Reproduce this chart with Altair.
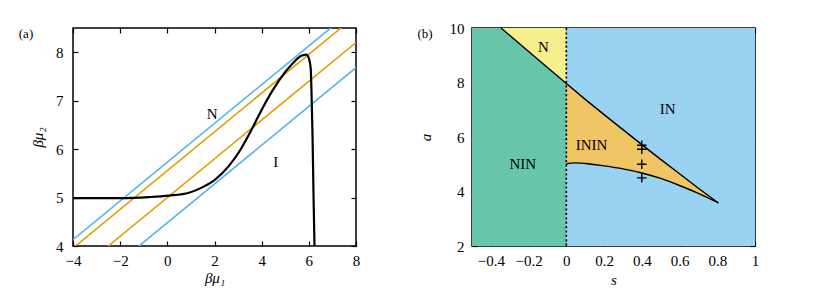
import altair as alt
import pandas as pd

FONT = "Liberation Serif"

# ---------------- panel (a) data ----------------
line_names = ["blue_hi", "orange_hi", "orange_lo", "blue_lo"]
line_x0 = [-4, -4, -4, -4]
line_x1 = [8, 8, 8, 8]
line_y0 = [4.13, 3.956, 3.40, 2.88]
line_y1 = [8.93, 8.756, 8.20, 7.68]
line_colors = ["#56b4e9", "#e69f00", "#e69f00", "#56b4e9"]

curve_x = [-4, -2, -0.78, 0.07, 0.92, 1.48, 2.05, 2.62, 3.04, 3.46, 3.82, 4.03, 4.4,
           4.74, 5.3, 5.66, 5.9, 6.01, 6.08, 6.12, 6.16, 6.2, 6.24]
curve_y = [4.99, 4.99, 5.01, 5.04, 5.10, 5.21, 5.38, 5.66, 5.94, 6.30, 6.64, 6.84, 7.16,
           7.42, 7.76, 7.92, 7.95, 7.86, 7.66, 7.04, 6.2, 5.0, 4.0]

a_label_text = ["N", "I"]
a_label_x = [1.9, 4.6]
a_label_y = [6.73, 5.73]

a_xticks = [-4, -2, 0, 2, 4, 6, 8]
a_yticks = [4, 5, 6, 7, 8]

# ---------------- panel (b) data ----------------
rect_names = ["NIN", "IN"]
rect_s0 = [-0.5, 0.0]
rect_s1 = [0.0, 1.0]
rect_a0 = [2, 2]
rect_a1 = [10, 10]
rect_colors = ["#66c5ab", "#9ad2f2"]

yellow_s = [-0.346, 0.0]
yellow_a = [10.0, 7.96]

bound_s = [-0.346, -0.2, 0.0, 0.1, 0.2, 0.3, 0.4, 0.5, 0.6, 0.7, 0.806]
bound_a = [10.0, 9.14, 7.96, 7.38, 6.82, 6.27, 5.72, 5.18, 4.65, 4.12, 3.58]

lower_s = [0.0, 0.02, 0.05, 0.1, 0.2, 0.3, 0.4, 0.5, 0.6, 0.7, 0.806]
lower_a = [5.0, 5.04, 5.05, 5.03, 4.94, 4.83, 4.68, 4.48, 4.22, 3.93, 3.58]
upper_a = [7.96, 7.84, 7.67, 7.38, 6.82, 6.27, 5.72, 5.18, 4.65, 4.12, 3.58]

plus_s = [0.4, 0.4, 0.4, 0.4]
plus_a = [4.5, 5.0, 5.55, 5.7]

b_label_text = ["N", "IN", "ININ", "NIN"]
b_label_s = [-0.122, 0.537, 0.134, -0.231]
b_label_a = [9.3, 7.04, 5.72, 5.02]

b_xticks = [-0.4, -0.2, 0, 0.2, 0.4, 0.6, 0.8, 1]
b_yticks = [2, 4, 6, 8, 10]

W, H = 283, 218
TICK = 5


def main_axis(values, title, fmt=None, lab_pad=8, title_pad=6):
    kw = dict(values=values, grid=False, domain=False, tickSize=TICK, offset=-TICK,
              tickColor="black", tickWidth=1.2, labelFont=FONT, labelFontSize=15,
              labelColor="black", labelPadding=lab_pad, labelFlush=False, labelOverlap=False,
              titleFont=FONT, titleFontSize=15, titleFontWeight="normal",
              titleFontStyle="italic", titleColor="black", titlePadding=title_pad, title=title)
    if fmt:
        kw["format"] = fmt
    return alt.Axis(**kw)


def mirror_axis(values, orient):
    return alt.Axis(values=values, grid=False, domain=False, tickSize=TICK, offset=-TICK,
                    tickColor="black", tickWidth=1.2, labels=False, title=None, orient=orient)


# ---------------- panel (a) ----------------
xs_a = alt.Scale(domain=[-4, 8], nice=False, zero=False)
ys_a = alt.Scale(domain=[4, 8.5], nice=False, zero=False)

rows = []
for n, x0, x1, y0, y1 in zip(line_names, line_x0, line_x1, line_y0, line_y1):
    rows.append({"name": n, "x": x0, "y": y0})
    rows.append({"name": n, "x": x1, "y": y1})
lines_df = pd.DataFrame(rows)
curve_df = pd.DataFrame({"x": curve_x, "y": curve_y})
alab_df = pd.DataFrame({"x": a_label_x, "y": a_label_y, "t": a_label_text})

lines_a = alt.Chart(lines_df).mark_line(clip=True, strokeWidth=1.6).encode(
    x=alt.X("x:Q", scale=xs_a, axis=main_axis(a_xticks, "βμ₁", lab_pad=7, title_pad=2)),
    y=alt.Y("y:Q", scale=ys_a, axis=main_axis(a_yticks, "βμ₂", lab_pad=10, title_pad=10)),
    color=alt.Color("name:N", scale=alt.Scale(domain=line_names, range=line_colors), legend=None),
)
curve_a = alt.Chart(curve_df).mark_line(
    clip=True, strokeWidth=2.2, color="black", interpolate="monotone"
).encode(
    x=alt.X("x:Q", scale=xs_a, axis=None),
    y=alt.Y("y:Q", scale=ys_a, axis=None),
)
mirror_a = alt.Chart(curve_df).mark_point(opacity=0).encode(
    x=alt.X("x:Q", scale=xs_a, axis=mirror_axis(a_xticks, "top")),
    y=alt.Y("y:Q", scale=ys_a, axis=mirror_axis(a_yticks, "right")),
)
labels_a = alt.Chart(alab_df).mark_text(font=FONT, fontSize=15, color="black").encode(
    x=alt.X("x:Q", scale=xs_a, axis=None),
    y=alt.Y("y:Q", scale=ys_a, axis=None),
    text="t:N",
)
tag_a = alt.Chart(pd.DataFrame({"t": ["(a)"]})).mark_text(
    font=FONT, fontSize=13, color="black", baseline="middle", align="center"
).encode(x=alt.value(-47), y=alt.value(6), text="t:N")

panel_a = alt.layer(lines_a, curve_a, mirror_a, labels_a, tag_a).resolve_axis(
    x="independent", y="independent"
).properties(width=W, height=H)

# ---------------- panel (b) ----------------
xs_b = alt.Scale(domain=[-0.5, 1], nice=False, zero=False)
ys_b = alt.Scale(domain=[2, 10], nice=False, zero=False)

rect_df = pd.DataFrame({"n": rect_names, "s0": rect_s0, "s1": rect_s1, "a0": rect_a0, "a1": rect_a1})
yellow_df = pd.DataFrame({"s": yellow_s, "a": yellow_a, "top": [10, 10]})
orange_df = pd.DataFrame({"s": lower_s, "lo": lower_a, "hi": upper_a})
bound_df = pd.DataFrame({"s": bound_s, "a": bound_a})
lower_df = pd.DataFrame({"s": lower_s, "a": lower_a})
plus_df = pd.DataFrame({"s": plus_s, "a": plus_a})
blab_df = pd.DataFrame({"s": b_label_s, "a": b_label_a, "t": b_label_text})

rects_b = alt.Chart(rect_df).mark_rect().encode(
    x=alt.X("s0:Q", scale=xs_b, axis=main_axis(b_xticks, "s", fmt="~g", lab_pad=7, title_pad=4)),
    x2="s1:Q",
    y=alt.Y("a0:Q", scale=ys_b, axis=main_axis(b_yticks, "a", lab_pad=8, title_pad=16)),
    y2="a1:Q",
    color=alt.Color("n:N", scale=alt.Scale(domain=rect_names, range=rect_colors), legend=None),
)
yellow_b = alt.Chart(yellow_df).mark_area(color="#f6ef8e", opacity=1).encode(
    x=alt.X("s:Q", scale=xs_b, axis=None),
    y=alt.Y("a:Q", scale=ys_b, axis=None),
    y2="top:Q",
)
orange_b = alt.Chart(orange_df).mark_area(color="#f0c566", opacity=1, interpolate="monotone").encode(
    x=alt.X("s:Q", scale=xs_b, axis=None),
    y=alt.Y("lo:Q", scale=ys_b, axis=None),
    y2="hi:Q",
)
dash_b = alt.Chart(pd.DataFrame({"s": [0]})).mark_rule(
    color="black", strokeDash=[2.2, 2.2], strokeWidth=1.6
).encode(x=alt.X("s:Q", scale=xs_b, axis=None))
bound_line = alt.Chart(bound_df).mark_line(color="black", strokeWidth=1.4).encode(
    x=alt.X("s:Q", scale=xs_b, axis=None),
    y=alt.Y("a:Q", scale=ys_b, axis=None),
)
lower_line = alt.Chart(lower_df).mark_line(color="black", strokeWidth=1.4, interpolate="monotone").encode(
    x=alt.X("s:Q", scale=xs_b, axis=None),
    y=alt.Y("a:Q", scale=ys_b, axis=None),
)
plus_b = alt.Chart(plus_df).mark_point(
    shape="M-1,0L1,0M0,-1L0,1", size=90, filled=False, color="black", strokeWidth=1.4, opacity=1
).encode(
    x=alt.X("s:Q", scale=xs_b, axis=None),
    y=alt.Y("a:Q", scale=ys_b, axis=None),
)
mirror_b = alt.Chart(plus_df).mark_point(opacity=0).encode(
    x=alt.X("s:Q", scale=xs_b, axis=mirror_axis(b_xticks, "top")),
    y=alt.Y("a:Q", scale=ys_b, axis=mirror_axis(b_yticks, "right")),
)
labels_b = alt.Chart(blab_df).mark_text(font=FONT, fontSize=15, color="black").encode(
    x=alt.X("s:Q", scale=xs_b, axis=None),
    y=alt.Y("a:Q", scale=ys_b, axis=None),
    text="t:N",
)
tag_b = alt.Chart(pd.DataFrame({"t": ["(b)"]})).mark_text(
    font=FONT, fontSize=13, color="black", baseline="middle", align="center"
).encode(x=alt.value(-47), y=alt.value(6), text="t:N")

panel_b = alt.layer(
    rects_b, yellow_b, orange_b, dash_b, bound_line, lower_line, plus_b, mirror_b, labels_b, tag_b
).resolve_axis(x="independent", y="independent").resolve_scale(color="independent").properties(
    width=W, height=H
)

chart = alt.hconcat(panel_a, panel_b, spacing=55).properties(
    padding={"left": 10, "top": 12, "right": 5, "bottom": 5}
).configure_view(stroke="black", strokeWidth=1.5)

chart.save("out.html", embed_options={"renderer": "svg", "actions": False})
